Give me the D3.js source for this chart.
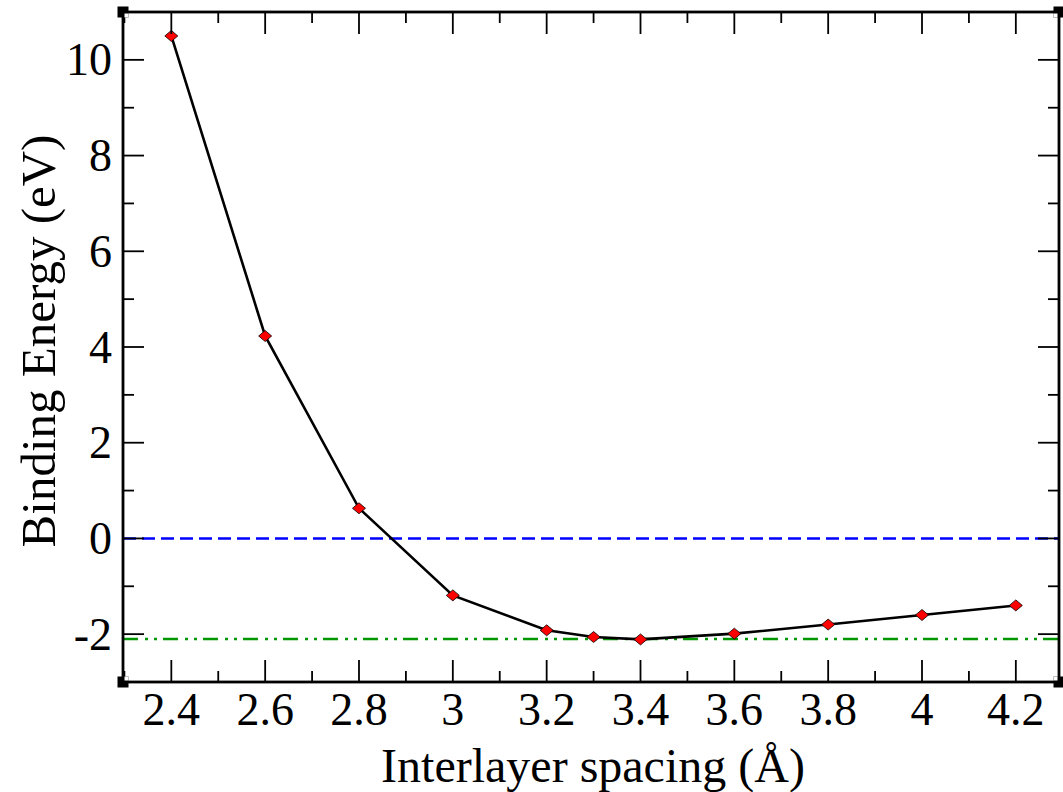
<!DOCTYPE html>
<html><head><meta charset="utf-8">
<script src="https://cdn.jsdelivr.net/npm/d3@7"></script>
<style>body{margin:0;background:#fff}svg{display:block}</style>
</head><body>
<svg id="c" width="1063" height="792"></svg>
<script>
const spacing = [2.4, 2.6, 2.8, 3.0, 3.2, 3.3, 3.4, 3.6, 3.8, 4.0, 4.2];
const energy  = [10.50, 4.23, 0.63, -1.19, -1.92, -2.06, -2.11, -1.99, -1.80, -1.60, -1.40];
const xTicks = [2.4, 2.6, 2.8, 3.0, 3.2, 3.4, 3.6, 3.8, 4.0, 4.2];
const yTicks = [-2, 0, 2, 4, 6, 8, 10];
const zeroLine = 0;
const minLine = -2.1;

const svg = d3.select("#c");
const L = 123, R = 1059, T = 12, B = 682;
const x = d3.scaleLinear().domain([2.297, 4.292]).range([L, R]);
const y = d3.scaleLinear().domain([-3, 11]).range([B, T]);
const font = "'Liberation Serif','Times New Roman',serif";

const xMinor = d3.range(2.3, 4.2901, 0.1).map(v => +v.toFixed(2)).filter(v => !xTicks.some(t => Math.abs(t - v) < 1e-6));
const yMinor = d3.range(-3, 11.01, 1).filter(v => !yTicks.includes(v));

// reference lines
svg.append("line").attr("x1", L).attr("x2", R).attr("y1", y(zeroLine)).attr("y2", y(zeroLine))
  .attr("stroke", "#0000ff").attr("stroke-width", 2.6).attr("stroke-dasharray", "13,6");
svg.append("line").attr("x1", L).attr("x2", R).attr("y1", y(minLine)).attr("y2", y(minLine))
  .attr("stroke", "#009600").attr("stroke-width", 2.6).attr("stroke-dasharray", "15,7,3,6,3,6");

// data line
const pts = spacing.map((s, i) => [s, energy[i]]);
svg.append("path").datum(pts)
  .attr("d", d3.line().x(d => x(d[0])).y(d => y(d[1])))
  .attr("fill", "none").attr("stroke", "#000").attr("stroke-width", 2.6);

// markers
svg.selectAll("path.m").data(pts).join("path").attr("class", "m")
  .attr("d", d => { const cx = x(d[0]), cy = y(d[1]); return `M${cx-6.5},${cy}L${cx},${cy-5.5}L${cx+6.5},${cy}L${cx},${cy+5.5}Z`; })
  .attr("fill", "#ff0000").attr("stroke", "#000").attr("stroke-width", 0.8);

// ticks
const g = svg.append("g").attr("stroke", "#000").attr("stroke-width", 1.8);
function xt(vals, len) {
  vals.forEach(v => {
    g.append("line").attr("x1", x(v)).attr("x2", x(v)).attr("y1", B).attr("y2", B - len);
    g.append("line").attr("x1", x(v)).attr("x2", x(v)).attr("y1", T).attr("y2", T + len);
  });
}
function yt(vals, len) {
  vals.forEach(v => {
    g.append("line").attr("y1", y(v)).attr("y2", y(v)).attr("x1", L).attr("x2", L + len);
    g.append("line").attr("y1", y(v)).attr("y2", y(v)).attr("x1", R).attr("x2", R - len);
  });
}
xt(xTicks, 22); xt(xMinor, 11); yt(yTicks, 21); yt(yMinor, 11);

// frame
svg.append("rect").attr("x", L).attr("y", T).attr("width", R - L).attr("height", B - T)
  .attr("fill", "none").attr("stroke", "#000").attr("stroke-width", 2.8);

// corner markers
[[L, T, 1, 1], [R, T, -1, 1], [L, B, 1, -1], [R, B, -1, -1]].forEach(([cx, cy, sx, sy]) => {
  svg.append("rect").attr("x", cx - 5.5).attr("y", cy - 5.5).attr("width", 11).attr("height", 11).attr("fill", "#000");
  svg.append("rect").attr("x", sx > 0 ? cx + 1.5 : cx - 5.5).attr("y", sy > 0 ? cy + 1.5 : cy - 5.5)
    .attr("width", 4).attr("height", 4).attr("fill", "#fff");
});

// tick labels
const fmt = v => String(+v.toFixed(1));
svg.selectAll("text.xl").data(xTicks).join("text").attr("class", "xl")
  .attr("x", d => x(d)).attr("y", 725).attr("text-anchor", "middle")
  .attr("font-family", font).attr("font-size", 46).text(fmt);
svg.selectAll("text.yl").data(yTicks).join("text").attr("class", "yl")
  .attr("x", 112).attr("y", d => y(d) + 15.5).attr("text-anchor", "end")
  .attr("font-family", font).attr("font-size", 46).text(fmt);

// axis titles
svg.append("text").attr("x", 593).attr("y", 782).attr("text-anchor", "middle")
  .attr("font-family", font).attr("font-size", 48).text("Interlayer spacing (Å)");
svg.append("text").attr("transform", "translate(55,341) rotate(-90)").attr("text-anchor", "middle")
  .attr("font-family", font).attr("font-size", 49).text("Binding Energy (eV)");
</script>
</body></html>
